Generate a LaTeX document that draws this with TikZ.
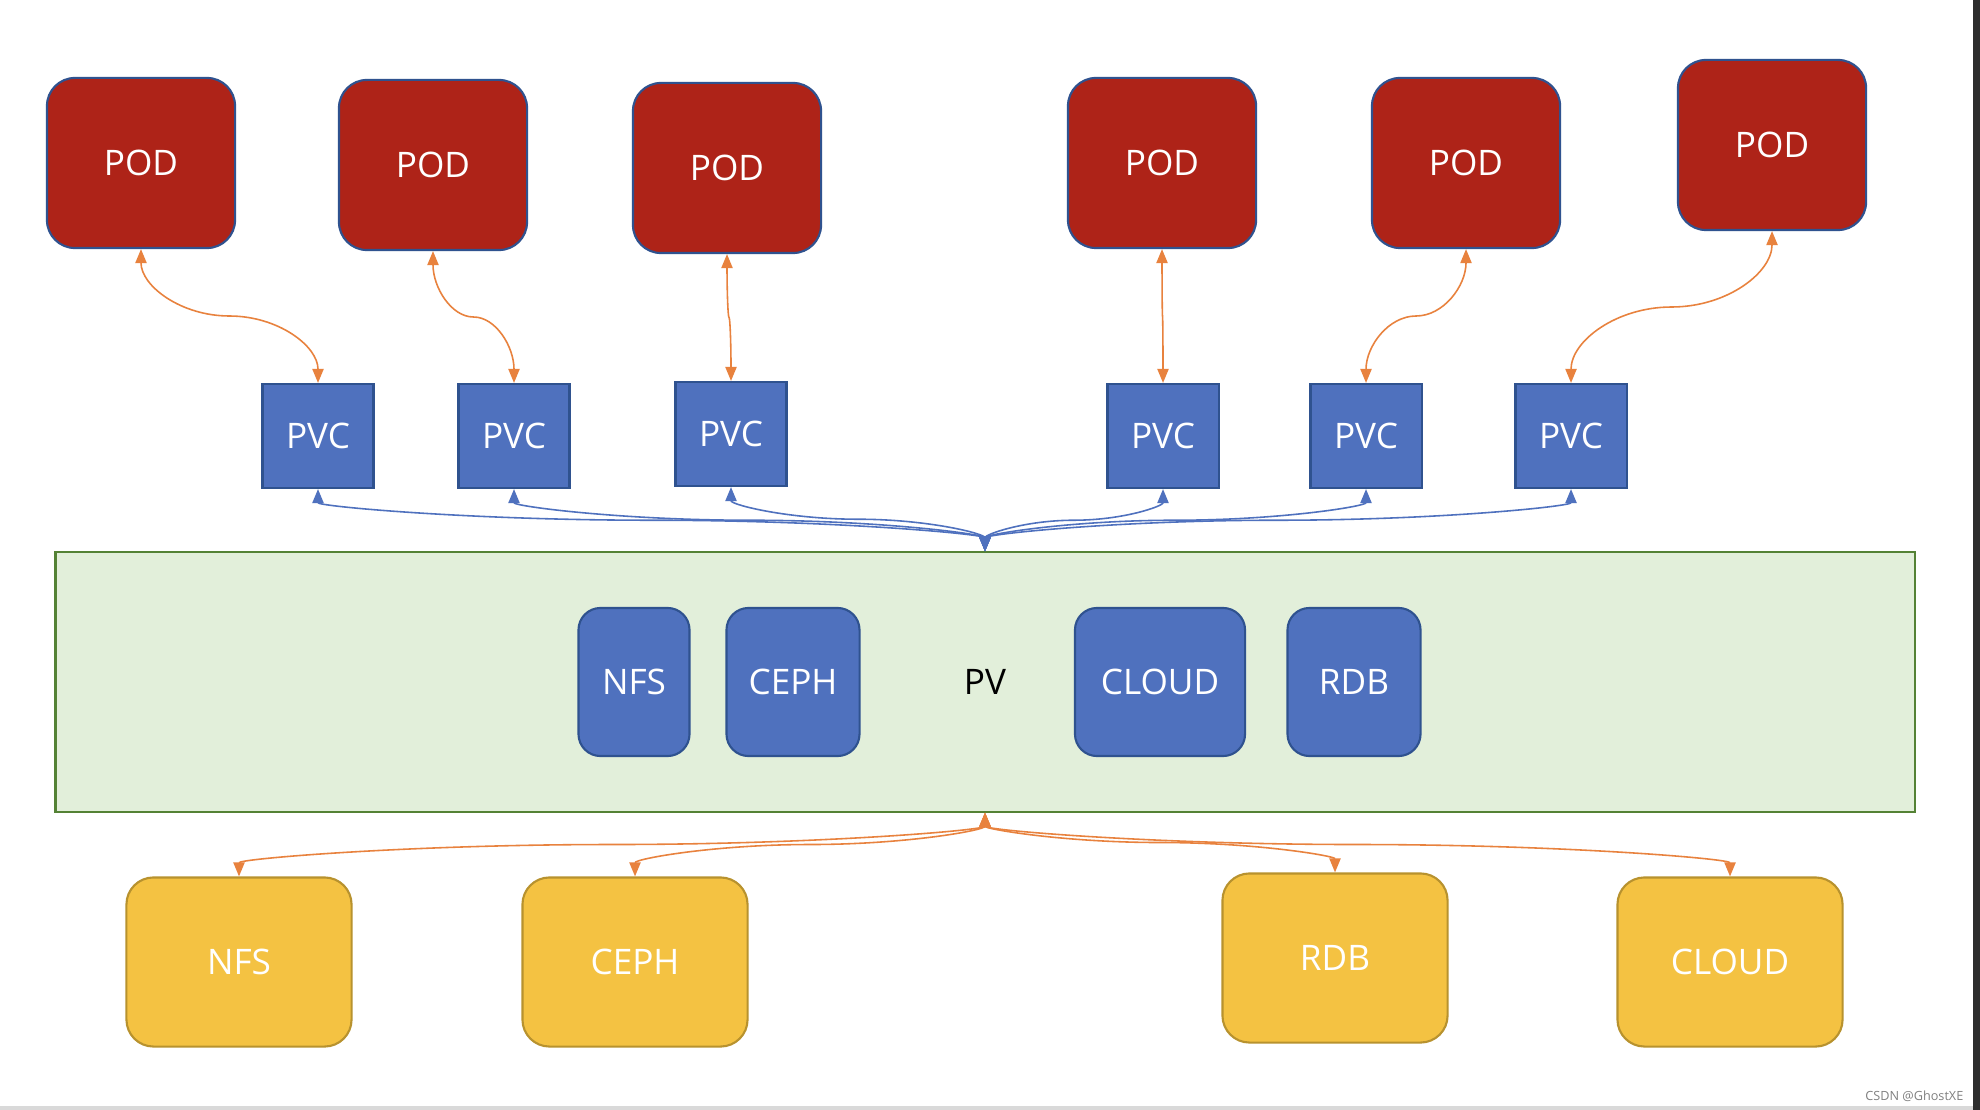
\documentclass[tikz,border=0pt]{standalone}
\usepackage{fontspec}
\setmainfont{Open Sans}
\usetikzlibrary{positioning, calc, arrows.meta}
\definecolor{podRed}{HTML}{AE2318}
\definecolor{boxEdge}{HTML}{2F528F}
\definecolor{pvcBlue}{HTML}{4F71BE}
\definecolor{storeYellow}{HTML}{F4C242}
\definecolor{storeEdge}{HTML}{B8922E}
\definecolor{pvFill}{HTML}{E2EFDA}
\definecolor{pvEdge}{HTML}{548235}
\definecolor{linkOrange}{HTML}{E8823E}
\newcommand{\labelFont}{\fontsize{10}{12}\selectfont}
\tikzstyle{pod}=[draw=boxEdge, line width=0.6pt, fill=podRed, rounded corners=0.28cm, minimum width=1.88cm, minimum height=1.70cm, text=white, font=\labelFont]
\tikzstyle{pvc}=[draw=boxEdge, line width=0.6pt, fill=pvcBlue, minimum width=1.11cm, minimum height=1.04cm, text=white, font=\labelFont]
\tikzstyle{backend}=[draw=boxEdge, line width=0.6pt, fill=pvcBlue, rounded corners=0.22cm, minimum height=1.48cm, text=white, font=\labelFont]
\tikzstyle{store}=[draw=storeEdge, line width=0.6pt, fill=storeYellow, rounded corners=0.27cm, minimum width=2.25cm, minimum height=1.69cm, text=white, font=\labelFont]
\tikzstyle{pvArea}=[draw=pvEdge, line width=0.6pt, fill=pvFill, minimum width=18.58cm, minimum height=2.59cm, font=\labelFont]
\tikzstyle{podLink}=[{Triangle[length=4pt,width=3.2pt]}-{Triangle[length=4pt,width=3.2pt]}, draw=linkOrange, line width=0.45pt]
\tikzstyle{pvLink}=[podLink, draw=pvcBlue]
\newcommand\curveLink{}
\def\curveLink[#1](#2)(#3){%
  \coordinate (mid) at ($(#2)!.5!(#3)$);
  \draw[#1] (#2) .. controls ($(#2)!.55!(mid -| #2)$) and ($(mid)!.55!(mid -| #2)$) .. (mid)
    .. controls ($(mid)!.55!(mid -| #3)$) and ($(#3)!.55!(mid -| #3)$) .. (#3);
}

\begin{document}
\begin{tikzpicture}[x=0.01cm, y=-0.01cm]
  \fill[white] (0,0) rectangle (1980,1110);
  \useasboundingbox (0,0) rectangle (1980,1110);
  % pods
  \node[pod] (pod1) at (141,163) {POD};
  \node[pod] (pod2) at (433,165) {POD};
  \node[pod] (pod3) at (727,168) {POD};
  \node[pod] (pod4) at (1162,163) {POD};
  \node[pod] (pod5) at (1466,163) {POD};
  \node[pod] (pod6) at (1772,145) {POD};
  % claims
  \node[pvc] (pvc1) at (318,436) {PVC};
  \node[pvc] (pvc2) at (514,436) {PVC};
  \node[pvc] (pvc3) at (731,434) {PVC};
  \node[pvc] (pvc4) at (1163,436) {PVC};
  \node[pvc] (pvc5) at (1366,436) {PVC};
  \node[pvc] (pvc6) at (1571,436) {PVC};
  % volume
  \node[pvArea] (pv) at (985,682) {PV};
  \node[backend, minimum width=1.11cm] (pvNfs) at (634,682) {NFS};
  \node[backend, minimum width=1.33cm] (pvCeph) at (793,682) {CEPH};
  \node[backend, minimum width=1.70cm] (pvCloud) at (1160,682) {CLOUD};
  \node[backend, minimum width=1.33cm] (pvRdb) at (1354,682) {RDB};
  % storage
  \node[store] (nfs) at (239,962) {NFS};
  \node[store] (ceph) at (635,962) {CEPH};
  \node[store] (rdb) at (1335,958) {RDB};
  \node[store] (cloud) at (1730,962) {CLOUD};
  % links
  \foreach \i in {1,...,6} {
    \curveLink[podLink](pod\i.south)(pvc\i.north)
    \curveLink[pvLink](pvc\i.south)(pv.north)
  }
  \foreach \s in {nfs,ceph,rdb,cloud} {
    \curveLink[podLink](pv.south)(\s.north)
  }
  % screen edge
  \fill[black!82] (1973,0) rectangle (1980,1110);
  \fill[black!15] (0,1106) rectangle (1973,1110);
  \node[anchor=east, inner sep=0pt, text=black!50, font=\fontsize{3.6}{4}\selectfont] (mark) at (1964,1096) {CSDN @GhostXE};
\end{tikzpicture}
\end{document}
